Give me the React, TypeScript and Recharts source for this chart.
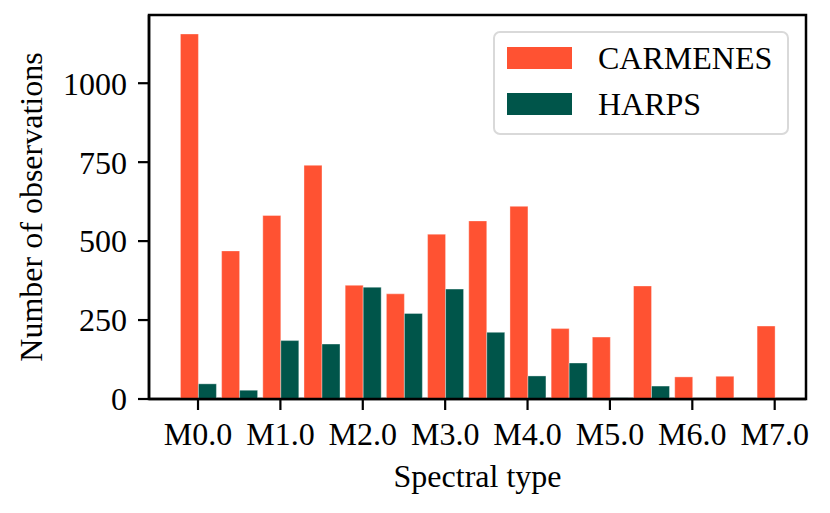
import React from "react";
import { BarChart, Bar, XAxis, YAxis, ReferenceArea } from "recharts";

// spectral subtypes, in steps of half a subtype (M0.0 = 0)
const subtypes = [0, 0.5, 1, 1.5, 2, 2.5, 3, 3.5, 4, 4.5, 5, 5.5, 6, 6.5, 7];
const carmenes = [1156, 469, 581, 740, 360, 333, 522, 564, 610, 223, 196, 358, 70, 72, 231];
const harps = [48, 28, 185, 174, 354, 271, 348, 211, 73, 114, 4, 41, 0, 0, 0];

const xTicks = [0, 1, 2, 3, 4, 5, 6, 7];
const yTicks = [0, 250, 500, 750, 1000];

const series = [
  { key: "CARMENES", color: "#FF5232" },
  { key: "HARPS", color: "#00554A" },
];

const data = subtypes.map((s, i) => ({
  subtype: s,
  CARMENES: carmenes[i],
  HARPS: harps[i],
}));

const FONT = "'Liberation Serif', 'Times New Roman', serif";
const FS = 32;

const tickStyle = { fill: "#000", fontSize: FS, fontFamily: FONT };

function LegendBox() {
  return (
    <div
      style={{
        position: "absolute",
        left: 493,
        top: 31,
        boxSizing: "border-box",
        width: 296,
        height: 104,
        border: "2.5px solid #d9d9d9",
        borderRadius: 7,
        background: "rgba(255,255,255,0.85)",
        fontFamily: FONT,
        fontSize: FS,
        paddingTop: 2,
        paddingLeft: 12,
      }}
    >
      {series.map((s) => (
        <div key={s.key} style={{ display: "flex", alignItems: "center", height: 46 }}>
          <span
            style={{
              display: "inline-block",
              width: 65,
              height: 22,
              background: s.color,
              marginRight: 26,
            }}
          />
          <span style={{ lineHeight: 1 }}>{s.key}</span>
        </div>
      ))}
    </div>
  );
}

function YLabel(props: any) {
  const vb = props.viewBox;
  const x = 41.5;
  const y = vb.y + vb.height / 2;
  return (
    <text
      x={x}
      y={y}
      transform={`rotate(-90, ${x}, ${y})`}
      textAnchor="middle"
      fontFamily={FONT}
      fontSize={FS}
      fill="#000"
    >
      Number of observations
    </text>
  );
}

function XLabel(props: any) {
  const vb = props.viewBox;
  return (
    <text
      x={vb.x + vb.width / 2}
      y={487}
      textAnchor="middle"
      fontFamily={FONT}
      fontSize={FS}
      fill="#000"
    >
      Spectral type
    </text>
  );
}

export default function App() {
  return (
    <div style={{ position: "absolute", left: 0, top: 0, width: 830, height: 513, background: "#fff" }}>
      <BarChart
        width={830}
        height={513}
        data={data}
        margin={{ top: 15, right: 24, left: 0, bottom: 0 }}
        barGap={0}
        barCategoryGap={0}
      >
        <XAxis
          dataKey="subtype"
          type="number"
          domain={[-0.595, 7.38]}
          allowDataOverflow
          ticks={xTicks}
          interval={0}
          tickFormatter={(v: number) => `M${v.toFixed(1)}`}
          height={114}
          tickSize={11}
          tickMargin={12}
          tick={tickStyle}
          axisLine={{ stroke: "#000", strokeWidth: 2.5 }}
          tickLine={{ stroke: "#000", strokeWidth: 2.2 }}
          label={<XLabel />}
        />
        <YAxis
          type="number"
          domain={[0, 1216]}
          allowDataOverflow
          ticks={yTicks}
          width={149}
          tickSize={11}
          tickMargin={11}
          tick={tickStyle}
          axisLine={{ stroke: "#000", strokeWidth: 2.5 }}
          tickLine={{ stroke: "#000", strokeWidth: 2.2 }}
          label={<YLabel />}
        />
        {series.map((s) => (
          <Bar
            key={s.key}
            dataKey={s.key}
            fill={s.color}
            stroke="#ffffff"
            strokeOpacity={0.45}
            strokeWidth={0.8}
            barSize={18}
            isAnimationActive={false}
          />
        ))}
        <ReferenceArea
          x1={-0.595}
          x2={7.38}
          y1={0}
          y2={1216}
          fill="none"
          fillOpacity={0}
          stroke="#000"
          strokeWidth={2.5}
          ifOverflow="visible"
        />
      </BarChart>
      <LegendBox />
    </div>
  );
}
